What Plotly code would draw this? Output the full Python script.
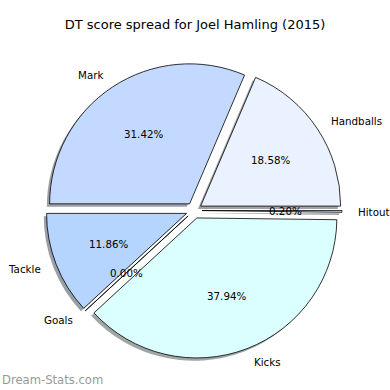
import math
import plotly.graph_objects as go

labels = ["Handballs", "Mark", "Tackle", "Goals", "Kicks", "Hitout"]
values = [18.58, 31.42, 11.86, 0.00, 37.94, 0.20]
colors = ["#eaf2ff", "#c4d9ff", "#b5d5ff", "#c8e0ff", "#dbffff", "#e0e8ff"]
title = "DT score spread for Joel Hamling (2015)"
watermark = "Dream-Stats.com"

W = H = 390
CX, CY, R = 194.0, 210.5, 140.0
PULL = 0.057
SH = 2.8  # shadow offset px
FONT = "DejaVu Sans"

half = R * (1 + PULL)
total = sum(values)
# plotly (counterclockwise) places the first slice clockwise of the start line;
# matplotlib starts the first slice at 3 o'clock going counterclockwise.
ROT = 90 - 360.0 * values[0] / total


def dom(cx, cy):
    return dict(x=[(cx - half) / W, (cx + half) / W],
                y=[(H - cy - half) / H, (H - cy + half) / H])


def shadow(c):
    c = c.lstrip("#")
    r, g, b = (int(c[i:i + 2], 16) for i in (0, 2, 4))
    return "rgba(%d,%d,%d,0.5)" % (r * 0.3, g * 0.3, b * 0.3)


fig = go.Figure()
fig.add_trace(go.Pie(
    labels=labels, values=values, sort=False, direction="counterclockwise",
    rotation=ROT, pull=[PULL] * len(values), textinfo="none", hoverinfo="skip",
    marker=dict(colors=[shadow(c) for c in colors], line=dict(width=0)),
    domain=dom(CX - SH, CY + SH), showlegend=False))
fig.add_trace(go.Pie(
    labels=labels, values=values, sort=False, direction="counterclockwise",
    rotation=ROT, pull=[PULL] * len(values), textinfo="none", hoverinfo="skip",
    marker=dict(colors=colors, line=dict(color="black", width=0.8)),
    domain=dom(CX, CY), showlegend=False))

annotations = []
start = 0.0
for lab, v in zip(labels, values):
    span = 360.0 * v / total
    mid = math.radians(start + span / 2)
    start += span
    c, s = math.cos(mid), math.sin(mid)
    ox, oy = CX + PULL * R * c, CY - PULL * R * s
    lx, ly = ox + 1.1 * R * c, oy - 1.1 * R * s
    px, py = ox + 0.6 * R * c, oy - 0.6 * R * s
    annotations.append(dict(x=lx / W, y=1 - ly / H, xref="paper", yref="paper",
                            text=lab, showarrow=False,
                            xanchor="left" if c > 0 else "right", yanchor="middle",
                            font=dict(family=FONT, size=10.3, color="black")))
    annotations.append(dict(x=px / W, y=1 - py / H, xref="paper", yref="paper",
                            text="%.2f%%" % v, showarrow=False,
                            xanchor="center", yanchor="middle",
                            font=dict(family=FONT, size=10.3, color="black")))

annotations.append(dict(x=0, y=1 - 380 / H, xref="paper", yref="paper",
                        text=watermark, showarrow=False, xanchor="left", yanchor="middle",
                        font=dict(family=FONT, size=11.6, color="#999999")))

fig.update_layout(
    width=W, height=H, margin=dict(l=0, r=0, t=0, b=0),
    paper_bgcolor="white", plot_bgcolor="white",
    title=dict(text=title, x=0.5, xanchor="center", y=1 - 24 / H, yanchor="middle",
               font=dict(family=FONT, size=13, color="black")),
    annotations=annotations,
)
fig.write_html("out.html", config={"displayModeBar": False},
               post_script="document.body.style.margin='0';document.body.style.padding='0';")
